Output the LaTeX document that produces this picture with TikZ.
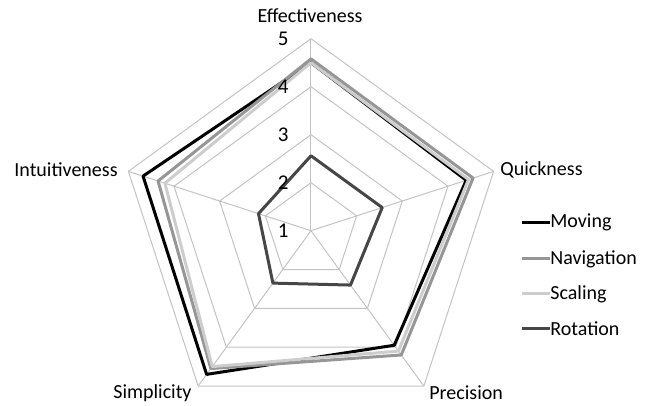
\documentclass[tikz,border=0pt]{standalone}
\usepackage{fontspec}
\setmainfont{Carlito}
\usetikzlibrary{positioning}
\definecolor{gridgrey}{RGB}{195,195,195}
\definecolor{navgrey}{RGB}{150,150,150}
\definecolor{scalegrey}{RGB}{205,205,205}
\definecolor{rotgrey}{RGB}{70,70,70}

\begin{document}
\begin{tikzpicture}[x=0.5pt, y=0.5pt,
gridline/.style={draw=gridgrey, line width=0.5pt},
series/.style={line width=1.5pt, line join=round},
axislabel/.style={font=\fontsize{10}{12}\selectfont, inner sep=0pt},
ticklabel/.style={font=\fontsize{10.5}{12}\selectfont, anchor=east, inner sep=0pt},
legendlabel/.style={font=\fontsize{10}{12}\selectfont, anchor=west, inner sep=0pt},
]
\useasboundingbox (-311,-175.3) rectangle (339,230.7);

%Axes
\coordinate (centre) at (0,0);
\foreach \name/\ang in {eff/90, qui/18, pre/-54, sim/-126, int/162}{
  \coordinate (\name) at (\ang:192);
  \draw[gridline] (centre) -- (\name);
}
%Rings
\foreach \r in {48,96,144,192}
  \draw[gridline] (90:\r) -- (18:\r) -- (-54:\r) -- (-126:\r) -- (162:\r) -- cycle;

%Axis labels
\node[axislabel] (Effectiveness) at (-1,215) {Effectiveness};
\node[axislabel, anchor=west] (Quickness) at (189,60.7) {Quickness};
\node[axislabel, anchor=west] (Precision) at (118,-162) {Precision};
\node[axislabel, anchor=east] (Simplicity) at (-119,-162) {Simplicity};
\node[axislabel, anchor=east] (Intuitiveness) at (-193,60.7) {Intuitiveness};

%Series
\draw[series, black] (90:168) -- (18:163.2) -- (-54:141.6) -- (-126:177.6) -- (162:176.6) -- cycle;
\draw[series, navgrey] (90:171.8) -- (18:170.4) -- (-54:153.6) -- (-126:170.4) -- (162:160.8) -- cycle;
\draw[series, scalegrey] (90:168) -- (18:165.6) -- (-54:148.8) -- (-126:168) -- (162:153.6) -- cycle;
\draw[series, rotgrey] (90:74.9) -- (18:74.9) -- (-54:67.2) -- (-126:64.8) -- (162:55.2) -- cycle;

%Scale
\foreach \v in {1,...,5}
  \node[ticklabel] (tick\v) at (-22,{48*(\v-1)}) {\v};

%Legend
\node[legendlabel] (Moving) at (239,8) {Moving};
\node[legendlabel] (Navigation) at (239,-28.3) {Navigation};
\node[legendlabel] (Scaling) at (239,-63.3) {Scaling};
\node[legendlabel] (Rotation) at (239,-98.3) {Rotation};
\coordinate[left=14pt of Moving.west] (movingkey);
\coordinate[left=14pt of Navigation.west] (navkey);
\coordinate[left=14pt of Scaling.west] (scalekey);
\coordinate[left=14pt of Rotation.west] (rotkey);
\draw[series, black] (movingkey) -- (Moving.west);
\draw[series, navgrey] (navkey) -- (Navigation.west);
\draw[series, scalegrey] (scalekey) -- (Scaling.west);
\draw[series, rotgrey] (rotkey) -- (Rotation.west);

\end{tikzpicture}
\end{document}
